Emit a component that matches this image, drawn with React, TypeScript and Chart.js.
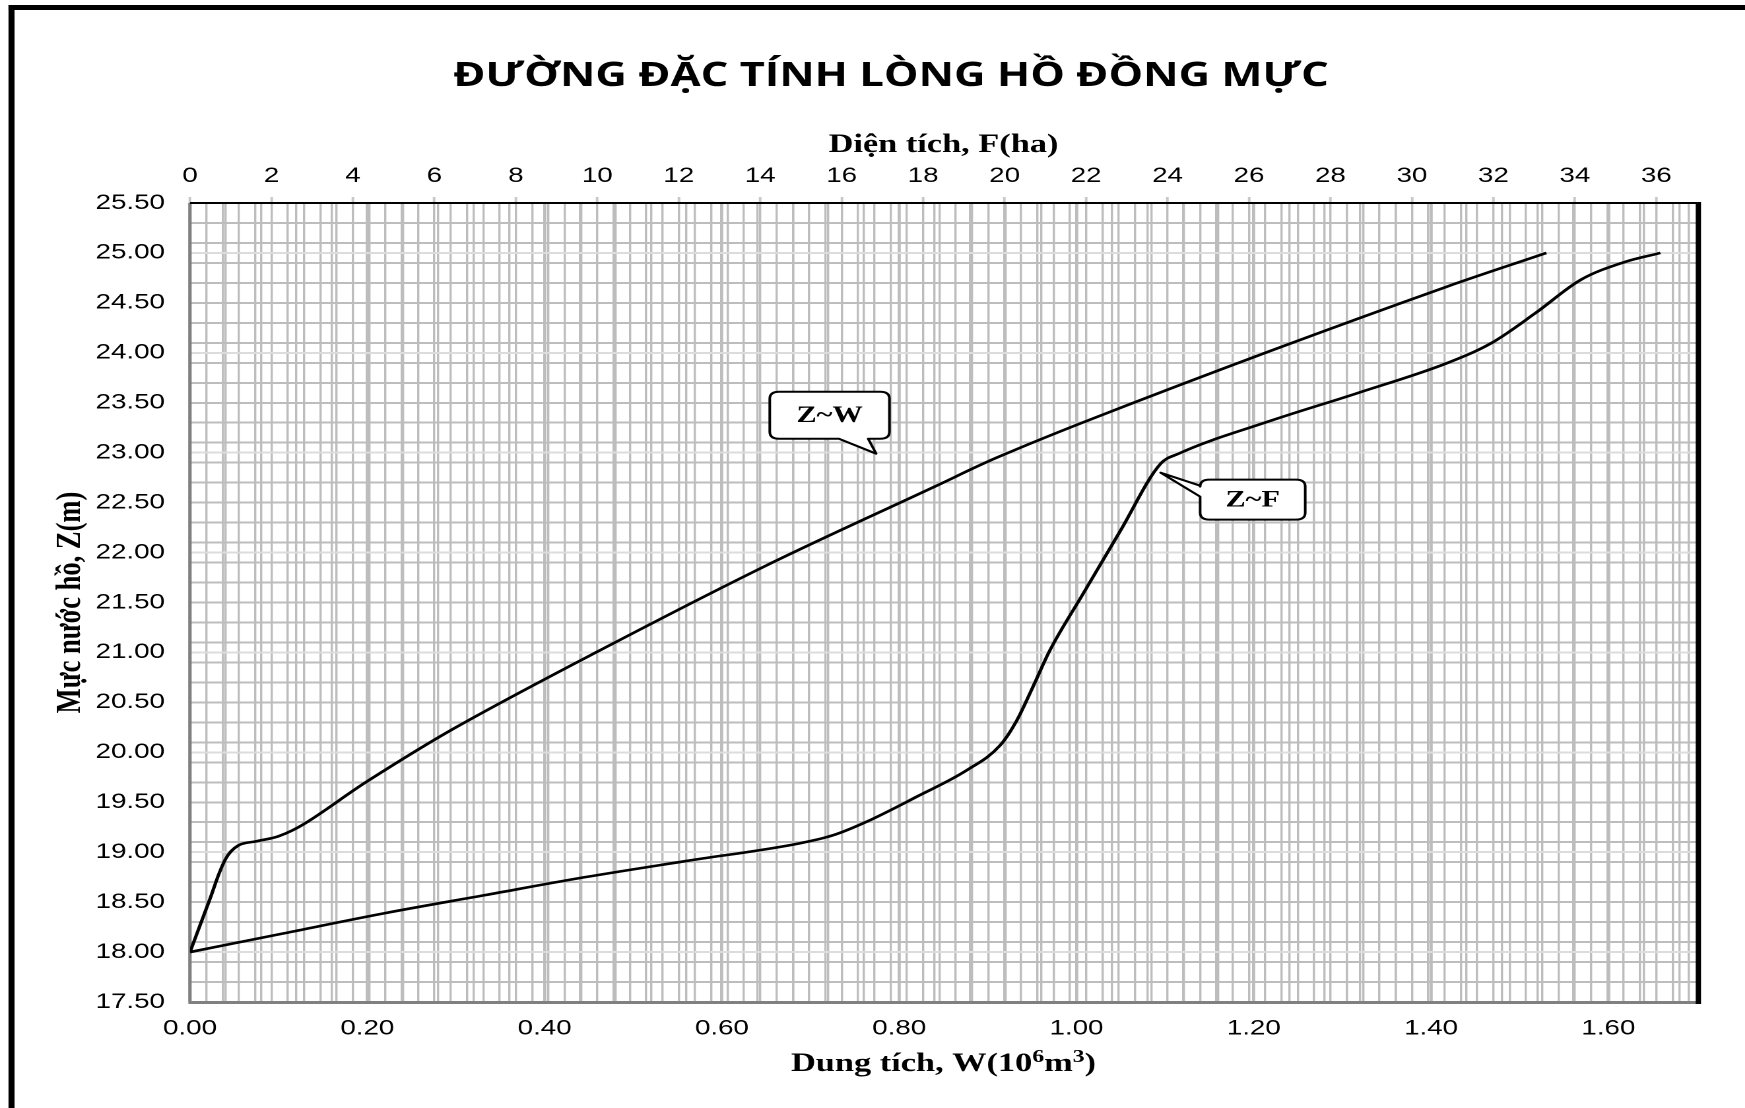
import React, { useEffect, useRef } from 'react';
import { Chart, registerables } from 'chart.js';

Chart.register(...registerables);

// ---------- text ----------
const TITLE = 'ĐƯỜNG ĐẶC TÍNH LÒNG HỒ ĐỒNG MỰC';
const TOP_AXIS_TITLE = 'Diện tích, F(ha)';
const Y_AXIS_TITLE = 'Mực nước hồ, Z(m)';
const BOTTOM_AXIS_TITLE_PARTS = [
  { text: 'Dung tích, W(10', sup: false },
  { text: '6', sup: true },
  { text: 'm', sup: false },
  { text: '3', sup: true },
  { text: ')', sup: false },
];
const LABEL_ZW = 'Z~W';
const LABEL_ZF = 'Z~F';

// ---------- data ----------
// Z ~ W curve (volume, 10^6 m3) - bottom axis
const W_VOLUME = [0, 0.022, 0.04, 0.055, 0.075, 0.1, 0.13, 0.2, 0.3, 0.46, 0.65, 0.84, 0.91, 1.015, 1.216, 1.417, 1.53];
const Z_OF_W = [18.0, 18.52, 18.93, 19.07, 19.11, 19.16, 19.29, 19.71, 20.25, 21.01, 21.87, 22.66, 22.95, 23.33, 24.01, 24.66, 25.0];

// Z ~ F curve (area, ha) - top axis
const F_AREA = [0, 2.33, 4.79, 7.24, 9.7, 12.15, 14.98, 15.79, 16.61, 17.84, 19.07, 19.89, 20.3, 20.7, 21.11, 21.93, 22.83, 23.83, 24.27, 26.46, 28.65, 30.85, 31.94, 33.04, 34.14, 35.23, 36.1];
const Z_OF_F = [18.0, 18.19, 18.39, 18.57, 18.75, 18.91, 19.09, 19.17, 19.305, 19.555, 19.82, 20.07, 20.32, 20.66, 21.02, 21.59, 22.21, 22.89, 22.99, 23.31, 23.595, 23.895, 24.095, 24.4, 24.73, 24.91, 25.0];

// ---------- axes ----------
const W_MIN = 0, W_MAX = 1.7, W_MINOR_STEP = 0.04;
const F_MIN = 0, F_MAX = 37, F_MINOR_STEP = 0.4;
const Z_MIN = 17.5, Z_MAX = 25.5, Z_GRID_STEP = 0.1;
const W_TICK_LABELS = [0, 0.2, 0.4, 0.6, 0.8, 1.0, 1.2, 1.4, 1.6];
const F_TICK_LABELS = [0, 2, 4, 6, 8, 10, 12, 14, 16, 18, 20, 22, 24, 26, 28, 30, 32, 34, 36];
const Z_TICK_LABELS = [17.5, 18, 18.5, 19, 19.5, 20, 20.5, 21, 21.5, 22, 22.5, 23, 23.5, 24, 24.5, 25, 25.5];

// callouts (in data units)
const CALLOUT_ZW = { x1: 0.654, x2: 0.789, zTop: 23.61, zBottom: 23.14, tailA: 0.732, tailB: 0.765, tipX: 0.774, tipZ: 22.99 };
const CALLOUT_ZF = { x1: 24.8, x2: 27.38, zTop: 22.73, zBottom: 22.33, tailA: 22.67, tailB: 22.56, tipX: 23.83, tipZ: 22.8 };

// ---------- layout ----------
const PAGE_W = 1745;
const PAGE_H = 1108;
const STRETCH = 1.32;
const BASE_W = PAGE_W / STRETCH;
const AREA_LEFT = 190 / STRETCH;
const AREA_RIGHT = 1697 / STRETCH;
const AREA_TOP = 203;
const AREA_BOTTOM = 1002;

const near = (a: number, b: number) => Math.abs(a - b) < 1e-6;
const isMultiple = (v: number, step: number, offset = 0) => {
  const q = (v - offset) / step;
  return Math.abs(q - Math.round(q)) < 1e-6;
};
const makeTicks = (min: number, max: number, step: number) => {
  const out: { value: number }[] = [];
  const n = Math.floor((max - min) / step + 1e-6);
  for (let i = 0; i <= n; i++) out.push({ value: +(min + i * step).toFixed(4) });
  return out;
};

const GRID = '#bdbdbd';
const GRID_LIGHT = '#dcdcdc';
const TICK_FONT = { family: '"Liberation Sans", Arial, sans-serif', size: 21 };
const SERIF = '"Liberation Serif", "Times New Roman", serif';

function drawCallout(ctx: CanvasRenderingContext2D, b: { x1: number; y1: number; x2: number; y2: number }, side: 'bottom' | 'left', ta: number, tb: number, tip: { x: number; y: number }, text: string) {
  const r = 7;
  const { x1, y1, x2, y2 } = b;
  ctx.save();
  ctx.beginPath();
  ctx.moveTo(x1 + r, y1);
  ctx.lineTo(x2 - r, y1);
  ctx.quadraticCurveTo(x2, y1, x2, y1 + r);
  ctx.lineTo(x2, y2 - r);
  ctx.quadraticCurveTo(x2, y2, x2 - r, y2);
  if (side === 'bottom') {
    ctx.lineTo(Math.max(ta, tb), y2);
    ctx.lineTo(tip.x, tip.y);
    ctx.lineTo(Math.min(ta, tb), y2);
  }
  ctx.lineTo(x1 + r, y2);
  ctx.quadraticCurveTo(x1, y2, x1, y2 - r);
  if (side === 'left') {
    ctx.lineTo(x1, Math.max(ta, tb));
    ctx.lineTo(tip.x, tip.y);
    ctx.lineTo(x1, Math.min(ta, tb));
  }
  ctx.lineTo(x1, y1 + r);
  ctx.quadraticCurveTo(x1, y1, x1 + r, y1);
  ctx.closePath();
  ctx.fillStyle = '#ffffff';
  ctx.fill();
  ctx.lineWidth = 2;
  ctx.lineJoin = 'round';
  ctx.strokeStyle = '#000000';
  ctx.stroke();
  ctx.fillStyle = '#000000';
  ctx.font = `bold 23px ${SERIF}`;
  ctx.textAlign = 'center';
  ctx.textBaseline = 'middle';
  ctx.fillText(text, (x1 + x2) / 2, (y1 + y2) / 2 + 1);
  ctx.restore();
}

const decorPlugin = {
  id: 'decor',
  beforeDatasetsDraw(chart: any) {
    const { ctx, chartArea: a } = chart;
    ctx.save();
    ctx.lineCap = 'butt';
    ctx.strokeStyle = '#808080';
    ctx.lineWidth = 2.5;
    ctx.beginPath();
    ctx.moveTo(a.left, a.top);
    ctx.lineTo(a.left, a.bottom + 2);
    ctx.stroke();
    ctx.lineWidth = 3;
    ctx.beginPath();
    ctx.moveTo(a.left, a.bottom + 0.5);
    ctx.lineTo(a.right, a.bottom + 0.5);
    ctx.stroke();
    ctx.strokeStyle = '#000000';
    ctx.lineWidth = 2;
    ctx.beginPath();
    ctx.moveTo(a.left, a.top);
    ctx.lineTo(a.right, a.top);
    ctx.stroke();
    ctx.restore();
  },
  afterDatasetsDraw(chart: any) {
    const { ctx, chartArea: a, scales } = chart;
    const sx = scales.x, sf = scales.x2, sy = scales.y;
    ctx.save();
    // right border
    ctx.strokeStyle = '#000000';
    ctx.lineWidth = 4;
    ctx.beginPath();
    ctx.moveTo(a.right + 1, a.top - 1);
    ctx.lineTo(a.right + 1, a.bottom + 2);
    ctx.stroke();

    // callouts
    drawCallout(
      ctx,
      { x1: sx.getPixelForValue(CALLOUT_ZW.x1), x2: sx.getPixelForValue(CALLOUT_ZW.x2), y1: sy.getPixelForValue(CALLOUT_ZW.zTop), y2: sy.getPixelForValue(CALLOUT_ZW.zBottom) },
      'bottom',
      sx.getPixelForValue(CALLOUT_ZW.tailA),
      sx.getPixelForValue(CALLOUT_ZW.tailB),
      { x: sx.getPixelForValue(CALLOUT_ZW.tipX), y: sy.getPixelForValue(CALLOUT_ZW.tipZ) },
      LABEL_ZW
    );
    drawCallout(
      ctx,
      { x1: sf.getPixelForValue(CALLOUT_ZF.x1), x2: sf.getPixelForValue(CALLOUT_ZF.x2), y1: sy.getPixelForValue(CALLOUT_ZF.zTop), y2: sy.getPixelForValue(CALLOUT_ZF.zBottom) },
      'left',
      sy.getPixelForValue(CALLOUT_ZF.tailA),
      sy.getPixelForValue(CALLOUT_ZF.tailB),
      { x: sf.getPixelForValue(CALLOUT_ZF.tipX), y: sy.getPixelForValue(CALLOUT_ZF.tipZ) },
      LABEL_ZF
    );

    // main title
    ctx.fillStyle = '#000000';
    ctx.textAlign = 'center';
    ctx.textBaseline = 'alphabetic';
    ctx.font = 'bold 33px "Open Sans", "Noto Sans", sans-serif';
    ctx.fillText(TITLE, 891 / STRETCH, 86);

    // top axis title
    const cx = (a.left + a.right) / 2;
    ctx.font = `bold 26px ${SERIF}`;
    ctx.fillText(TOP_AXIS_TITLE, cx, 152);

    // bottom axis title with superscripts
    const size = 26;
    const supSize = 18;
    const fontN = `bold ${size}px ${SERIF}`;
    const fontS = `bold ${supSize}px ${SERIF}`;
    let total = 0;
    const widths = BOTTOM_AXIS_TITLE_PARTS.map((p) => {
      ctx.font = p.sup ? fontS : fontN;
      const w = ctx.measureText(p.text).width;
      total += w;
      return w;
    });
    let px = cx - total / 2;
    const base = 1071;
    ctx.textAlign = 'left';
    BOTTOM_AXIS_TITLE_PARTS.forEach((p, i) => {
      ctx.font = p.sup ? fontS : fontN;
      ctx.fillText(p.text, px, p.sup ? base - 9 : base);
      px += widths[i];
    });

    // y axis title
    ctx.save();
    ctx.translate(71 / STRETCH, (a.top + a.bottom) / 2);
    ctx.rotate(-Math.PI / 2);
    ctx.textAlign = 'center';
    ctx.textBaseline = 'middle';
    ctx.font = `bold 26.5px ${SERIF}`;
    ctx.fillText(Y_AXIS_TITLE, 0, 0);
    ctx.restore();

    // outer frame (left and top edges)
    ctx.fillStyle = '#000000';
    ctx.fillRect(8.5 / STRETCH, 5, 6 / STRETCH, PAGE_H);
    ctx.fillRect(8.5 / STRETCH, 5, BASE_W, 5);
    ctx.restore();
  },
};

export default function App() {
  const ref = useRef<HTMLCanvasElement | null>(null);

  useEffect(() => {
    if (!ref.current) return;
    const chart = new Chart(ref.current, {
      type: 'scatter',
      data: {
        datasets: [
          {
            label: 'Z~W',
            data: W_VOLUME.map((w, i) => ({ x: w, y: Z_OF_W[i] })),
            xAxisID: 'x',
            yAxisID: 'y',
            showLine: true,
            borderColor: '#000000',
            backgroundColor: '#000000',
            borderWidth: 2.6,
            pointRadius: 0,
            tension: 0.35,
          },
          {
            label: 'Z~F',
            data: F_AREA.map((f, i) => ({ x: f, y: Z_OF_F[i] })),
            xAxisID: 'x2',
            yAxisID: 'y',
            showLine: true,
            borderColor: '#000000',
            backgroundColor: '#000000',
            borderWidth: 2.6,
            pointRadius: 0,
            cubicInterpolationMode: 'monotone',
          },
        ],
      },
      options: {
        animation: false,
        responsive: true,
        maintainAspectRatio: false,
        devicePixelRatio: 2,
        layout: { padding: { left: 0, top: 0, bottom: 0, right: BASE_W - AREA_RIGHT } },
        plugins: {
          legend: { display: false },
          title: { display: false },
          tooltip: { enabled: false },
        },
        scales: {
          x: {
            type: 'linear',
            position: 'bottom',
            min: W_MIN,
            max: W_MAX,
            afterBuildTicks: (s: any) => { s.ticks = makeTicks(W_MIN, W_MAX - 0.001, W_MINOR_STEP); },
            afterFit: (s: any) => { s.height = PAGE_H - AREA_BOTTOM; },
            border: { display: false },
            grid: {
              drawTicks: false,
              color: GRID,
              lineWidth: (c: any) => (c.tick && W_TICK_LABELS.some((l) => near(l, c.tick.value)) ? 2.4 : 1.7),
            },
            ticks: {
              autoSkip: false,
              maxRotation: 0,
              minRotation: 0,
              padding: 14,
              color: '#000000',
              font: TICK_FONT,
              callback: (v: any) => (W_TICK_LABELS.some((l) => near(l, +v)) ? (+v).toFixed(2) : ''),
            },
          },
          x2: {
            type: 'linear',
            position: 'top',
            min: F_MIN,
            max: F_MAX,
            afterBuildTicks: (s: any) => { s.ticks = makeTicks(F_MIN, F_MAX - 0.01, F_MINOR_STEP); },
            afterFit: (s: any) => { s.height = AREA_TOP; },
            border: { display: false },
            grid: {
              drawTicks: true,
              tickLength: 6,
              color: GRID,
              lineWidth: 1.7,
              tickColor: (c: any) => (c.tick && F_TICK_LABELS.some((l) => near(l, c.tick.value)) ? '#c8c8c8' : 'rgba(0,0,0,0)'),
              tickWidth: 2,
            },
            ticks: {
              autoSkip: false,
              maxRotation: 0,
              minRotation: 0,
              padding: 8,
              color: '#000000',
              font: TICK_FONT,
              callback: (v: any) => (F_TICK_LABELS.some((l) => near(l, +v)) ? String(Math.round(+v)) : ''),
            },
          },
          y: {
            type: 'linear',
            position: 'left',
            min: Z_MIN,
            max: Z_MAX,
            afterBuildTicks: (s: any) => { s.ticks = makeTicks(Z_MIN, Z_MAX, Z_GRID_STEP); },
            afterFit: (s: any) => { s.width = AREA_LEFT; },
            border: { display: false },
            grid: {
              drawTicks: false,
              color: (c: any) => {
                if (!c.tick) return 'rgba(0,0,0,0)';
                const v = c.tick.value;
                if (isMultiple(v, 0.2, Z_MIN)) return GRID;
                if (isMultiple(v, 0.5)) return GRID_LIGHT;
                return 'rgba(0,0,0,0)';
              },
              lineWidth: (c: any) => {
                if (!c.tick) return 0;
                const v = c.tick.value;
                if (isMultiple(v, 0.2, Z_MIN)) return 2;
                if (isMultiple(v, 0.5)) return 2;
                return 0;
              },
            },
            ticks: {
              autoSkip: false,
              padding: 19,
              color: '#000000',
              font: TICK_FONT,
              callback: (v: any) => (Z_TICK_LABELS.some((l) => near(l, +v)) ? (+v).toFixed(2) : ''),
            },
          },
        },
      },
      plugins: [decorPlugin],
    } as any);
    return () => chart.destroy();
  }, []);

  return (
    <div style={{ position: 'absolute', left: 0, top: 0, width: PAGE_W, height: PAGE_H, overflow: 'hidden', background: '#ffffff' }}>
      <div style={{ width: BASE_W, height: PAGE_H, transform: `scaleX(${STRETCH})`, transformOrigin: '0 0' }}>
        <canvas ref={ref} />
      </div>
    </div>
  );
}
